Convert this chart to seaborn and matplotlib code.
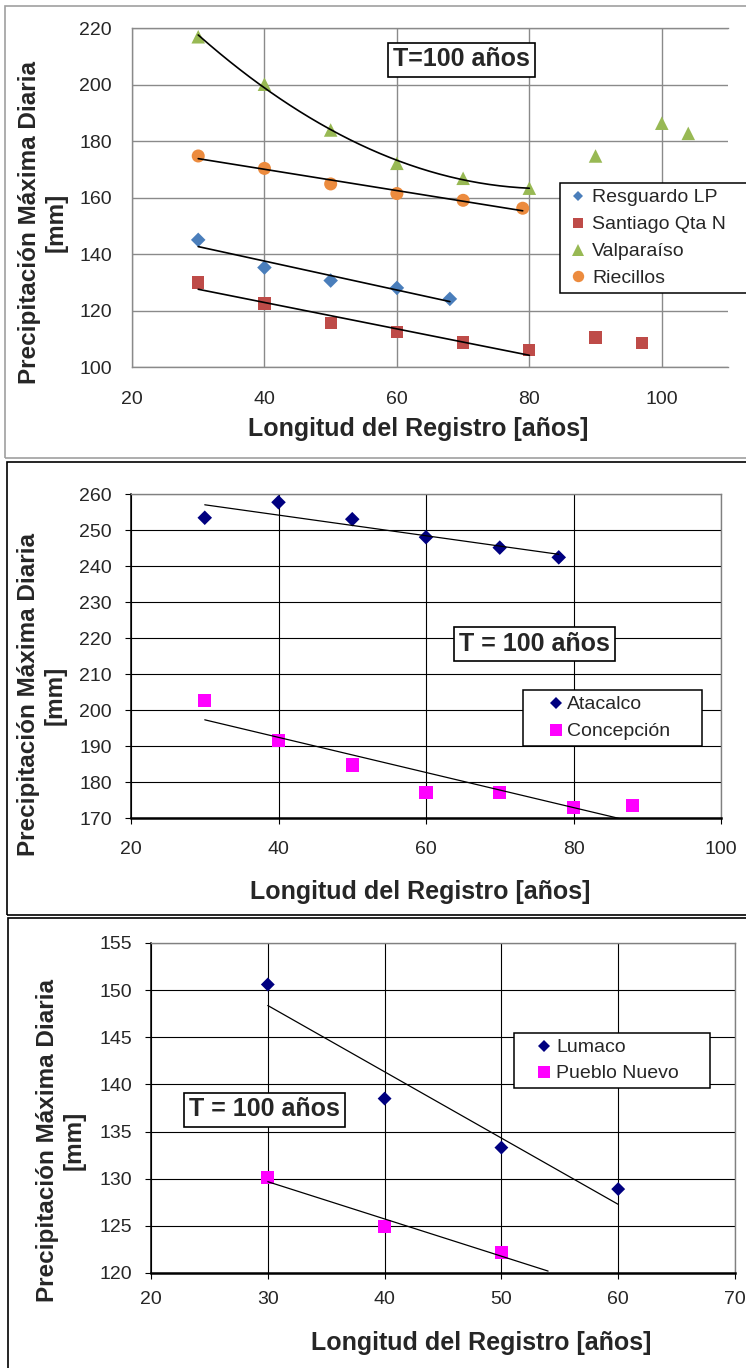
import numpy as np
import pandas as pd
import matplotlib
matplotlib.use('Agg')
import matplotlib.pyplot as plt
from matplotlib.lines import Line2D
from matplotlib.patches import Rectangle
import seaborn as sns

sns.set_style('white')
plt.rcParams['font.family'] = ['Liberation Sans', 'DejaVu Sans']

W, H = 746, 1368

# ---- panel 1: T=100 years, four stations
names1 = ['Resguardo LP', 'Santiago Qta N', 'Valparaíso', 'Riecillos']
x_resg = [30, 40, 50, 60, 68]
y_resg = [145.0, 135.2, 130.6, 128.0, 124.1]
x_stgo = [30, 40, 50, 60, 70, 80, 90, 97]
y_stgo = [129.9, 122.5, 115.5, 112.3, 108.7, 106.1, 110.4, 108.5]
x_valp = [30, 40, 50, 60, 70, 80, 90, 100, 104]
y_valp = [216.9, 200.1, 183.9, 172.1, 166.8, 163.3, 174.7, 186.3, 182.7]
x_riec = [30, 40, 50, 60, 70, 79]
y_riec = [174.7, 170.3, 164.8, 161.4, 159.0, 156.2]

# ---- panel 2
names2 = ['Atacalco', 'Concepción']
x_atac = [30, 40, 50, 60, 70, 78]
y_atac = [253.4, 257.7, 253.0, 248.0, 245.1, 242.4]
x_conc = [30, 40, 50, 60, 70, 80, 88]
y_conc = [202.7, 191.6, 184.7, 177.1, 177.0, 172.9, 173.5]

# ---- panel 3
names3 = ['Lumaco', 'Pueblo Nuevo']
x_lum = [30, 40, 50, 60]
y_lum = [150.6, 138.5, 133.3, 128.9]
x_pn = [30, 40, 50]
y_pn = [130.1, 124.9, 122.2]

xlab = 'Longitud del Registro [años]'
ylab = 'Precipitación Máxima Diaria\n[mm]'


def fx(p):
    return p / W


def fy(p):
    return 1 - p / H


def box(l, t, r, b):
    return [l / W, 1 - b / H, (r - l) / W, (b - t) / H]


def scatter(ax, names, xs, ys, markers, colors, sizes):
    df = pd.concat([pd.DataFrame({'estacion': n, 'x': x, 'y': y})
                    for n, x, y in zip(names, xs, ys)])
    sns.scatterplot(data=df, x='x', y='y', hue='estacion', style='estacion', size='estacion',
                    palette=dict(zip(names, colors)), markers=dict(zip(names, markers)),
                    sizes=dict(zip(names, sizes)), linewidth=0, legend=False, ax=ax, zorder=3)


def trend(ax, x, y, n_fit=None, deg=1, x_end=None, lw=1.1):
    x = np.array(x[:n_fit], float)
    y = np.array(y[:n_fit], float)
    c = np.polyfit(x, y, deg)
    xx = np.linspace(x[0], x_end if x_end else x[-1], 200)
    ax.plot(xx, np.polyval(c, xx), color='k', lw=lw, zorder=4)


def legend(ax, names, markers, colors, msizes, l, t, w, hl, htp, ls):
    handles = [Line2D([], [], ls='none', marker=m, color=c, markersize=s, markeredgewidth=0)
               for m, c, s in zip(markers, colors, msizes)]
    ax.legend(handles, names, loc='upper left', bbox_to_anchor=(fx(l), fy(t), w / W, 0),
              bbox_transform=ax.figure.transFigure, mode='expand', borderaxespad=0,
              fontsize=14, frameon=True, fancybox=False, framealpha=1, edgecolor='black',
              borderpad=0.3, handlelength=hl, handletextpad=htp, labelspacing=ls, numpoints=1)
    ax.get_legend().get_frame().set_linewidth(1.1)


def tbox(text, cx, cy):
    fig.text(fx(cx), fy(cy), text, ha='center', va='center', fontsize=18, fontweight='bold',
             bbox=dict(boxstyle='square,pad=0.2', fc='white', ec='black', lw=1.2))


fig = plt.figure(figsize=(W / 100, H / 100), dpi=100)
fig.patch.set_facecolor('white')

# outer frames of the three pasted charts
fig.patches.append(Rectangle((fx(5), fy(458)), 1.1, (458 - 6) / H, transform=fig.transFigure,
                             fill=False, ec='#a0a0a0', lw=1.2))
fig.patches.append(Rectangle((fx(7), fy(915)), 1.1, (915 - 462) / H, transform=fig.transFigure,
                             fill=False, ec='black', lw=1.2))
fig.patches.append(Rectangle((fx(8), fy(1420)), 1.1, (1420 - 918) / H, transform=fig.transFigure,
                             fill=False, ec='black', lw=1.2))

# ---------------- panel 1 (Excel 2007 look)
gray = '#8a8a8a'
cols1 = ['#4a7ebb', '#be4b48', '#98b954', '#ec8b3e']
ax1 = fig.add_axes(box(132, 28, 728, 367))
scatter(ax1, names1, [x_resg, x_stgo, x_valp, x_riec], [y_resg, y_stgo, y_valp, y_riec],
        ['D', 's', '^', 'o'], cols1, [55, 78, 95, 88])
trend(ax1, x_resg, y_resg, lw=1.2)
trend(ax1, x_stgo, y_stgo, n_fit=6, lw=1.2)
trend(ax1, x_valp, y_valp, n_fit=6, deg=2, lw=1.2)
trend(ax1, x_riec, y_riec, lw=1.2)
ax1.set_xlim(20, 110)
ax1.set_ylim(100, 220)
ax1.set_xticks(range(20, 101, 20))
ax1.set_yticks(range(100, 221, 20))
ax1.grid(True, color=gray, lw=1.0)
ax1.set_axisbelow(True)
for s in ['left', 'bottom', 'top']:
    ax1.spines[s].set_color(gray)
    ax1.spines[s].set_linewidth(1.0)
ax1.spines['right'].set_visible(False)
ax1.tick_params(axis='both', length=0, labelsize=14)
ax1.tick_params(axis='y', pad=14.4)
ax1.tick_params(axis='x', pad=17.5)
ax1.set_xlabel('')
ax1.set_ylabel('')
legend(ax1, names1, ['D', 's', '^', 'o'], cols1,
       [5.6, 7.8, 8.6, 8.2], 560, 183, 210, 1.26, 0.09, 0.48)
fig.text(fx(42.5), fy(222), ylab, rotation=90, ha='center', va='center', multialignment='center',
         fontsize=17.5, fontweight='bold')
fig.text(fx(418), fy(429), xlab, ha='center', va='center', fontsize=18, fontweight='bold')
tbox('T=100 años', 461.5, 59.5)


def excel2003(ax, xp, yp):
    ax.grid(True, color='black', lw=0.8)
    ax.set_axisbelow(True)
    ax.spines['left'].set_color('black')
    ax.spines['left'].set_linewidth(1.1)
    ax.spines['bottom'].set_color('black')
    ax.spines['bottom'].set_linewidth(1.8)
    for s in ['top', 'right']:
        ax.spines[s].set_color('#808080')
        ax.spines[s].set_linewidth(1.0)
    ax.tick_params(axis='both', direction='out', length=4.5, width=0.8, color='black',
                   labelsize=14, left=True, bottom=True)
    ax.tick_params(axis='y', pad=yp)
    ax.tick_params(axis='x', pad=xp)
    ax.set_xlabel('')
    ax.set_ylabel('')


# ---------------- panel 2
ax2 = fig.add_axes(box(131, 494, 721, 818))
scatter(ax2, names2, [x_atac, x_conc], [y_atac, y_conc], ['D', 's'], ['#000080', '#ff00ff'], [55, 90])
trend(ax2, x_atac, y_atac, lw=0.9)
trend(ax2, x_conc, y_conc, lw=0.9)
ax2.set_xlim(20, 100)
ax2.set_ylim(170, 260)
ax2.set_xticks(range(20, 101, 20))
ax2.set_yticks(range(170, 261, 10))
excel2003(ax2, 12.3, 9.2)
legend(ax2, names2, ['D', 's'], ['#000080', '#ff00ff'], [6.2, 8.2], 523, 690, 179, 2.8, -0.83, 0.48)
fig.text(fx(42), fy(695), ylab, rotation=90, ha='center', va='center', multialignment='center',
         fontsize=17.5, fontweight='bold')
fig.text(fx(420), fy(892), xlab, ha='center', va='center', fontsize=18, fontweight='bold')
tbox('T = 100 años', 534.5, 644)

# ---------------- panel 3
ax3 = fig.add_axes(box(151, 943, 735, 1273))
scatter(ax3, names3, [x_lum, x_pn], [y_lum, y_pn], ['D', 's'], ['#000080', '#ff00ff'], [50, 85])
trend(ax3, x_lum, y_lum, lw=0.9)
trend(ax3, x_pn, y_pn, x_end=54, lw=0.9)
ax3.set_xlim(20, 70)
ax3.set_ylim(120, 155)
ax3.set_xticks(range(20, 71, 10))
ax3.set_yticks(range(120, 156, 5))
excel2003(ax3, 8.5, 9.0)
legend(ax3, names3, ['D', 's'], ['#000080', '#ff00ff'], [6.0, 8.3], 514, 1033, 196, 2.49, -0.63, 0.43)
fig.text(fx(61), fy(1140), ylab, rotation=90, ha='center', va='center', multialignment='center',
         fontsize=17.5, fontweight='bold')
fig.text(fx(481.5), fy(1343), xlab, ha='center', va='center', fontsize=18, fontweight='bold')
tbox('T = 100 años', 264.5, 1109.5)

fig.savefig('out.png', dpi=100)
